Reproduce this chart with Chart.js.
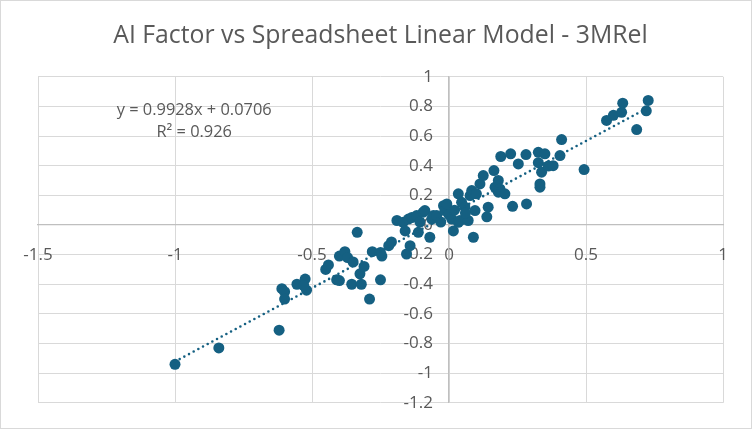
<!DOCTYPE html>
<html>
<head>
<meta charset="utf-8">
<script src="https://cdn.jsdelivr.net/npm/chart.js@4.4.1/dist/chart.umd.min.js"></script>
<style>
  html, body { margin: 0; padding: 0; background: #ffffff; }
  #wrap { width: 752px; height: 429px; }
</style>
</head>
<body>
<div id="wrap"><canvas id="c" width="752" height="429"></canvas></div>
<script>
// ---- Data ----
const chartTitle = "AI Factor vs Spreadsheet Linear Model - 3MRel";
const equationLines = ["y = 0.9928x + 0.0706", "R\u00B2 = 0.926"];

// Spreadsheet linear model (x) vs AI factor (y)
const xs = [
  -1.00, -0.84, -0.62, -0.61, -0.60, -0.60, -0.555, -0.525, -0.52, -0.53,
  -0.45, -0.44, -0.41, -0.40, -0.40, -0.38, -0.37, -0.35, -0.355, -0.335,
  -0.325, -0.31, -0.32, -0.29, -0.28, -0.25, -0.245, -0.25, -0.22, -0.21,
  -0.19, -0.167, -0.16, -0.155, -0.142, -0.148, -0.136, -0.118, -0.112, -0.106,
  -0.094, -0.088, -0.07, -0.063, -0.057, -0.045, -0.02, -0.015, -0.008, 0.01,
  0.016, 0.034, 0.04, 0.034, 0.046, 0.058, 0.07, 0.077, 0.083, 0.089,
  0.095, 0.10, 0.113, 0.125, 0.138, 0.143, 0.164, 0.168, 0.18, 0.18,
  0.186, 0.204, 0.189, 0.225, 0.232, 0.253, 0.281, 0.283, 0.326, 0.326,
  0.338, 0.332, 0.332, 0.35, 0.362, 0.38, 0.405, 0.411, 0.493, 0.575,
  0.60, 0.63, 0.634, 0.685, 0.72, 0.727, 0.00, -0.03, 0.06, 0.02
];
const ys = [
  -0.94, -0.83, -0.71, -0.43, -0.45, -0.50, -0.40, -0.365, -0.44, -0.41,
  -0.30, -0.27, -0.37, -0.375, -0.21, -0.18, -0.22, -0.25, -0.40, -0.05,
  -0.33, -0.28, -0.40, -0.50, -0.18, -0.37, -0.21, -0.185, -0.14, -0.115,
  0.03, 0.018, -0.04, -0.196, -0.14, 0.04, 0.05, 0.063, -0.05, 0.02,
  0.086, 0.097, -0.083, 0.04, 0.063, 0.063, 0.13, 0.097, 0.142, 0.04,
  -0.04, 0.018, 0.03, 0.21, 0.153, 0.12, 0.03, 0.198, 0.232, -0.083,
  0.097, 0.21, 0.277, 0.333, 0.055, 0.12, 0.367, 0.255, 0.30, 0.221,
  0.243, 0.21, 0.462, 0.48, 0.126, 0.412, 0.475, 0.142, 0.49, 0.42,
  0.356, 0.277, 0.255, 0.48, 0.397, 0.40, 0.468, 0.576, 0.374, 0.705,
  0.74, 0.76, 0.822, 0.644, 0.77, 0.84, 0.07, 0.02, 0.08, 0.10
];

// Linear trendline end points (as drawn)
const trendX = [-1.0, 0.727];
const trendY = [-0.922, 0.792];

// Axis ticks
const xTicks = [-1.5, -1, -0.5, 0, 0.5, 1];
const yTicks = [-1.2, -1, -0.8, -0.6, -0.4, -0.2, 0, 0.2, 0.4, 0.6, 0.8, 1];

// ---- Build chart ----
const FONT = "'Open Sans', 'Liberation Sans', sans-serif";
const TEXT = "#595959";
const MARK = "#156082";
const GRID = "#d9d9d9";

// y labels of an axis placed at x = 0: keep them a little left of the axis line
const origCompute = Chart.LinearScale.prototype._computeLabelItems;
Chart.LinearScale.prototype._computeLabelItems = function (chartArea) {
  const items = origCompute.call(this, chartArea);
  if (this.axis === 'y' && typeof this.options.position === 'object') {
    const shift = this.options.ticks.padding;
    items.forEach(it => {
      const t = it.options.translation;
      it.options.translation = [t[0] - shift, t[1]];
    });
  }
  return items;
};

const points = xs.map((x, i) => ({ x: x, y: ys[i] }));
const trend = trendX.map((x, i) => ({ x: x, y: trendY[i] }));

const backgroundPlugin = {
  id: "bg",
  beforeDraw(chart) {
    const ctx = chart.ctx;
    ctx.save();
    ctx.fillStyle = "#ffffff";
    ctx.fillRect(0, 0, chart.width, chart.height);
    ctx.strokeStyle = GRID;
    ctx.lineWidth = 1;
    ctx.strokeRect(0.5, 0.5, chart.width - 1, chart.height - 1);
    ctx.restore();
  }
};

const equationPlugin = {
  id: "equation",
  afterDatasetsDraw(chart) {
    const ctx = chart.ctx;
    const sx = chart.scales.x, sy = chart.scales.y;
    const cx = sx.getPixelForValue(-0.93);
    ctx.save();
    ctx.fillStyle = TEXT;
    ctx.font = "16.4px " + FONT;
    ctx.textAlign = "center";
    ctx.textBaseline = "middle";
    ctx.fillText(equationLines[0], cx, sy.getPixelForValue(0.775));
    ctx.fillText(equationLines[1], cx, sy.getPixelForValue(0.628));
    ctx.restore();
  }
};

const fmt = v => {
  const r = Math.round(v * 10) / 10;
  return (r === 0 ? 0 : r).toString();
};

new Chart(document.getElementById("c"), {
  type: "scatter",
  data: {
    datasets: [
      {
        type: "line",
        label: "Linear trend",
        data: trend,
        borderColor: MARK,
        borderWidth: 2.6,
        borderDash: [0, 5.3],
        borderCapStyle: "round",
        pointRadius: 0,
        fill: false
      },
      {
        label: "3MRel",
        data: points,
        backgroundColor: MARK,
        borderColor: MARK,
        pointRadius: 5.5,
        pointHoverRadius: 5.5,
        borderWidth: 0
      }
    ]
  },
  options: {
    responsive: false,
    animation: false,
    devicePixelRatio: 1,
    layout: { padding: { left: 38, right: 29, top: 0, bottom: 25 } },
    plugins: {
      legend: { display: false },
      tooltip: { enabled: false },
      title: {
        display: true,
        text: chartTitle,
        color: TEXT,
        font: { family: FONT, size: 24.8, weight: "normal" },
        padding: { top: 21, bottom: 26 }
      }
    },
    scales: {
      x: {
        type: "linear",
        position: { y: 0 },
        min: -1.5,
        max: 1,
        afterBuildTicks: axis => { axis.ticks = xTicks.map(v => ({ value: v })); },
        ticks: {
          color: TEXT,
          font: { family: FONT, size: 17 },
          padding: 14,
          maxRotation: 0,
          callback: v => fmt(v)
        },
        grid: { color: GRID, lineWidth: 1, drawTicks: true, tickLength: 6, tickColor: "rgba(0,0,0,0)" },
        border: { color: "#bfbfbf", width: 1.3 }
      },
      y: {
        type: "linear",
        position: { x: 0 },
        min: -1.2,
        max: 1,
        afterBuildTicks: axis => { axis.ticks = yTicks.map(v => ({ value: v })); },
        ticks: {
          color: TEXT,
          font: { family: FONT, size: 17 },
          padding: 16,
          callback: v => fmt(v)
        },
        grid: { color: GRID, lineWidth: 1, drawTicks: false },
        border: { color: "#bfbfbf", width: 1.3 }
      }
    }
  },
  plugins: [backgroundPlugin, equationPlugin]
});
</script>
</body>
</html>
